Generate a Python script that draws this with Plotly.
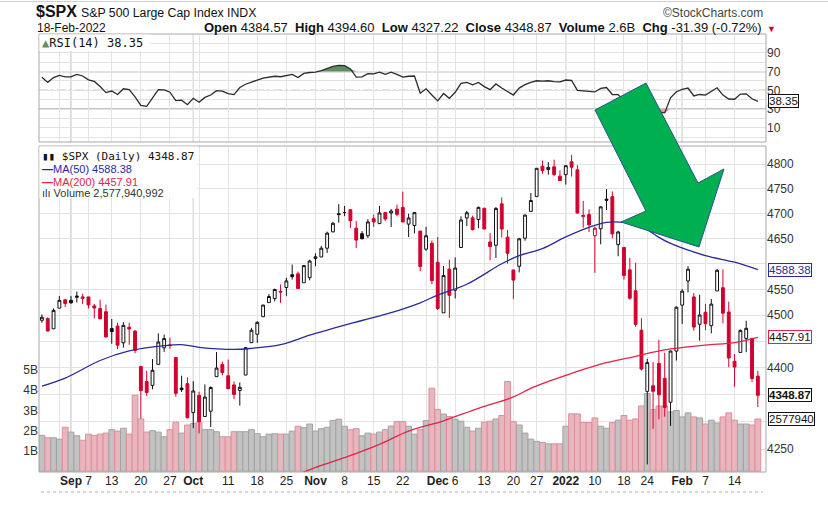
import numpy as np
import pandas as pd
import plotly.graph_objects as go

# ---------------- data ----------------
holidays = ["2021-09-06", "2021-11-25", "2021-12-24", "2022-01-17"]
dates = [d.strftime("%Y-%m-%d") for d in
         pd.bdate_range("2021-08-25", "2022-02-18", freq="C", holidays=holidays)]

prev_close_start = 4486.23

opens = [4490.45, 4493.75, 4474.10, 4513.76, 4529.75,
         4528.80, 4534.48, 4532.42, 4535.38, 4518.09, 4513.02, 4506.92, 4474.81, 4479.33, 4447.49, 4477.09, 4469.74, 4402.95, 4374.45, 4367.43, 4406.75, 4438.04, 4442.12, 4419.54, 4362.41, 4370.67,
         4317.16, 4348.84, 4309.87, 4319.57, 4383.73, 4406.51, 4385.44, 4368.31, 4358.01, 4386.75, 4447.69, 4463.72, 4497.34, 4524.42, 4532.24, 4546.12, 4553.69, 4578.69, 4580.22, 4562.84, 4572.87,
         4610.62, 4613.34, 4630.65, 4662.93, 4699.26, 4701.48, 4707.25, 4670.26, 4659.39, 4655.24, 4689.30, 4679.42, 4701.50, 4700.72, 4708.44, 4712.00, 4678.48, 4675.78, 4664.63, 4628.75, 4640.25,
         4602.82, 4504.73, 4589.49, 4548.37, 4631.97, 4690.86, 4691.00, 4687.64, 4710.30, 4642.99, 4636.46, 4719.13, 4652.50, 4587.90, 4594.96, 4650.36, 4703.96, 4733.99, 4795.49, 4788.64, 4794.23, 4775.21,
         4778.14, 4804.51, 4787.99, 4693.39, 4697.66, 4655.34, 4669.14, 4728.59, 4733.56, 4637.99, 4632.24, 4588.03, 4547.35, 4471.38, 4356.32, 4366.64, 4408.43, 4380.58, 4336.19, 4431.79,
         4519.57, 4566.39, 4535.41, 4482.79, 4505.75, 4480.02, 4547.00, 4553.24, 4506.27, 4412.61, 4429.28, 4455.75, 4456.06, 4384.57]
highs = [4501.71, 4495.90, 4513.33, 4537.36, 4531.39,
         4537.11, 4545.85, 4541.45, 4535.38, 4521.79, 4529.90, 4520.47, 4492.99, 4485.68, 4486.87, 4485.87, 4471.52, 4402.95, 4394.87, 4416.75, 4465.40, 4463.12, 4457.30, 4419.54, 4385.57, 4382.55,
         4375.19, 4355.51, 4369.23, 4365.57, 4429.97, 4412.02, 4415.88, 4374.89, 4372.87, 4439.73, 4475.82, 4488.75, 4520.40, 4540.87, 4551.44, 4559.67, 4572.62, 4598.53, 4584.57, 4597.55, 4608.08,
         4620.34, 4635.15, 4663.46, 4683.00, 4718.50, 4714.92, 4708.53, 4684.85, 4664.55, 4688.47, 4697.42, 4714.95, 4701.50, 4708.80, 4717.75, 4743.83, 4699.39, 4702.87, 4664.63, 4672.95, 4646.02,
         4652.94, 4595.46, 4608.03, 4612.60, 4694.04, 4705.06, 4695.26, 4713.57, 4710.30, 4660.47, 4712.60, 4731.99, 4666.70, 4587.90, 4651.14, 4697.67, 4740.74, 4791.49, 4807.02, 4804.06, 4808.93, 4786.83,
         4796.64, 4818.62, 4797.70, 4725.01, 4707.95, 4673.02, 4714.13, 4748.83, 4744.13, 4665.13, 4632.24, 4611.55, 4602.11, 4494.52, 4417.35, 4411.01, 4453.23, 4428.74, 4432.72, 4516.89,
         4550.49, 4595.31, 4542.88, 4539.66, 4521.86, 4531.32, 4590.03, 4588.92, 4526.33, 4426.22, 4472.77, 4489.55, 4456.06, 4394.60]
lows = [4485.66, 4468.99, 4474.10, 4513.76, 4515.80,
        4522.02, 4524.66, 4521.52, 4513.00, 4493.95, 4492.07, 4457.66, 4445.70, 4435.46, 4438.37, 4443.80, 4427.76, 4305.91, 4347.96, 4360.19, 4406.75, 4430.27, 4436.19, 4346.33, 4355.08, 4306.24,
        4288.52, 4278.94, 4309.87, 4290.49, 4383.73, 4386.22, 4360.59, 4342.09, 4329.92, 4386.75, 4447.69, 4447.47, 4496.41, 4524.40, 4526.89, 4524.00, 4537.36, 4569.17, 4551.66, 4562.84, 4567.59,
        4595.06, 4613.34, 4621.19, 4662.59, 4681.32, 4694.39, 4670.87, 4630.86, 4648.31, 4650.77, 4672.86, 4679.42, 4684.41, 4672.78, 4694.22, 4682.17, 4652.66, 4659.89, 4585.43, 4625.26, 4560.00,
        4510.27, 4504.73, 4495.12, 4532.46, 4631.97, 4674.52, 4665.98, 4670.24, 4667.60, 4606.52, 4611.22, 4651.89, 4600.22, 4531.10, 4583.16, 4645.53, 4703.96, 4733.99, 4780.04, 4778.08, 4775.33, 4765.75,
        4758.17, 4774.27, 4699.44, 4671.26, 4662.74, 4582.24, 4638.27, 4706.71, 4650.29, 4614.75, 4568.70, 4530.20, 4477.95, 4395.34, 4222.62, 4287.11, 4304.80, 4309.50, 4292.46, 4414.02,
        4483.53, 4544.32, 4470.39, 4451.50, 4471.47, 4465.40, 4547.00, 4484.31, 4401.41, 4364.84, 4429.28, 4429.68, 4373.81, 4327.22]
closes = [4496.19, 4470.00, 4509.37, 4528.79, 4522.68,
          4524.09, 4536.95, 4535.43, 4520.03, 4514.07, 4493.28, 4458.58, 4468.73, 4443.05, 4480.70, 4473.75, 4432.99, 4357.73, 4354.19, 4395.64, 4448.98, 4455.48, 4443.11, 4352.63, 4359.46, 4307.54,
          4357.04, 4300.46, 4345.72, 4363.55, 4399.76, 4391.34, 4361.19, 4350.65, 4363.80, 4438.26, 4471.37, 4486.46, 4519.63, 4536.19, 4549.78, 4544.90, 4566.48, 4574.79, 4551.68, 4596.42, 4605.38,
          4613.67, 4630.65, 4660.57, 4680.06, 4697.53, 4701.70, 4685.25, 4646.71, 4649.27, 4682.85, 4682.80, 4700.90, 4688.67, 4704.54, 4697.96, 4682.94, 4690.70, 4701.46, 4594.62, 4655.27, 4567.00,
          4513.04, 4577.10, 4538.43, 4591.67, 4686.75, 4701.21, 4667.45, 4712.02, 4668.97, 4634.09, 4709.85, 4668.67, 4620.64, 4568.02, 4649.23, 4696.56, 4725.79, 4791.19, 4786.35, 4793.06, 4778.73, 4766.18,
          4796.56, 4793.54, 4700.58, 4696.05, 4677.03, 4670.29, 4713.07, 4726.35, 4659.03, 4662.85, 4577.11, 4532.76, 4482.73, 4397.94, 4410.13, 4356.45, 4349.93, 4326.51, 4431.85, 4515.55,
          4546.54, 4589.38, 4477.44, 4500.53, 4483.87, 4521.54, 4587.18, 4504.08, 4418.64, 4401.67, 4471.07, 4475.01, 4380.26, 4348.87]

volume_billions = [1.77, 1.65, 1.65, 1.58, 2.17,
                   1.93, 1.75, 1.53, 1.83, 1.77, 1.83, 1.88, 2.05, 1.98, 2.12, 1.83, 3.75, 2.58, 1.93, 2.00, 1.93, 1.70, 2.05, 2.42, 1.88, 2.28,
                   2.35, 2.42, 2.05, 2.05, 1.95, 1.70, 1.70, 1.95, 1.95, 1.95, 2.05, 1.85, 1.70, 1.83, 1.85, 1.83, 1.83, 1.98, 2.22, 2.15, 2.33,
                   1.98, 2.10, 2.17, 2.50, 2.57, 2.22, 2.05, 2.10, 1.75, 1.88, 1.83, 1.93, 2.05, 2.23, 2.45, 2.45, 2.22, 1.83, 2.05, 2.50, 4.10,
                   3.05, 2.82, 2.70, 2.57, 2.47, 2.17, 1.98, 2.12, 2.42, 2.47, 2.58, 2.75, 4.43, 2.45, 2.28, 1.88, 1.58, 1.47, 1.42, 1.35, 1.35, 1.35,
                   2.22, 2.83, 2.83, 2.40, 2.40, 2.63, 2.22, 2.12, 2.40, 2.52, 2.75, 2.52, 2.58, 3.22, 3.83, 3.05, 3.22, 3.22, 2.93, 3.00,
                   2.68, 2.88, 2.68, 2.63, 2.33, 2.52, 2.38, 2.68, 2.88, 2.52, 2.33, 2.33, 2.28, 2.57794]

rsi14 = [64, 58.5, 63.6, 66, 64.3,
         64.3, 67, 65.3, 61.2, 59.5, 54, 47.6, 49.3, 45.6, 51.7, 50.7, 43, 34, 33, 42, 50.7, 50.5, 48, 39, 39.5, 34.7,
         41.5, 37.4, 42.5, 45, 49.7, 49.2, 46.5, 45.5, 53, 56.5, 59, 61, 63, 64, 65, 64.5, 66, 67, 63.6, 68, 69,
         69.5, 71, 73.5, 75.5, 76.5, 76.3, 72.8, 64, 64.3, 67.7, 67.5, 69.4, 67, 69.4, 67, 64, 65, 65.3, 47, 51.7, 45,
         38.8, 46.6, 41.5, 48, 57.5, 58.5, 55.8, 58.5, 54, 50.7, 56.8, 52.5, 49, 45, 52.4, 56, 58.5, 60.2, 59.8, 60.2, 59.2, 59,
         61, 60.5, 50, 49.5, 48.8, 48.3, 52, 53, 45.6, 45.5, 39, 36, 33, 27, 29, 27.5, 27, 26, 42, 48.5,
         51, 52.5, 44, 45.6, 45, 49, 52.7, 45, 40.8, 40.5, 46, 46.3, 41, 38.35]

ma50_dates = ["2021-08-25", "2021-08-31", "2021-09-09", "2021-09-16", "2021-09-24", "2021-09-29",
              "2021-10-04", "2021-10-12", "2021-10-15", "2021-10-22", "2021-10-29", "2021-11-04",
              "2021-11-11", "2021-11-18", "2021-11-26", "2021-12-01", "2021-12-08", "2021-12-16",
              "2021-12-21", "2021-12-28", "2022-01-03", "2022-01-07", "2022-01-12", "2022-01-18",
              "2022-01-21", "2022-01-26", "2022-01-28", "2022-02-07", "2022-02-14", "2022-02-18"]
ma50_vals = [4366, 4381, 4414, 4432, 4442, 4444, 4439, 4435, 4437, 4444, 4462, 4475,
             4490, 4505, 4524, 4539, 4560, 4600, 4616, 4630, 4653, 4672, 4682, 4682,
             4674, 4652, 4640, 4616, 4603, 4588.38]

ma200_dates = ["2021-10-27", "2021-11-02", "2021-11-08", "2021-11-16", "2021-11-23", "2021-12-02",
               "2021-12-10", "2021-12-20", "2021-12-23", "2022-01-03", "2022-01-11", "2022-01-20",
               "2022-01-27", "2022-02-07", "2022-02-14", "2022-02-18"]
ma200_vals = [4205, 4221, 4235, 4259, 4283, 4302, 4325, 4346, 4362, 4386, 4407, 4422,
              4434, 4443, 4448, 4457.91]

tick_dates = ["2021-08-30", "2021-09-01", "2021-09-07", "2021-09-13", "2021-09-20", "2021-09-27",
              "2021-10-01", "2021-10-04", "2021-10-11", "2021-10-18", "2021-10-25", "2021-11-01",
              "2021-11-08", "2021-11-15", "2021-11-22", "2021-11-29", "2021-12-01", "2021-12-06",
              "2021-12-13", "2021-12-20", "2021-12-27", "2022-01-03", "2022-01-10", "2022-01-18",
              "2022-01-24", "2022-01-31", "2022-02-01", "2022-02-07", "2022-02-14"]
tick_labels = ["", "<b>Sep</b>", "7", "13", "20", "27", "<b>Oct</b>", "", "11", "18", "25", "<b>Nov</b>",
               "8", "15", "22", "", "<b>Dec</b>", "6", "13", "20", "27", "<b>2022</b>", "10", "18",
               "24", "", "<b>Feb</b>", "7", "14"]
month_dates = ["2021-09-01", "2021-10-01", "2021-11-01", "2021-12-01", "2022-01-03", "2022-02-01"]

price_ticks = [4250, 4300, 4350, 4400, 4450, 4500, 4550, 4600, 4650, 4700, 4750, 4800]
price_tick_labels = ["4250", "", "", "4400", "", "4500", "4550", "", "4650", "4700", "4750", "4800"]

n = len(dates)
assert all(len(a) == n for a in [opens, highs, lows, closes, volume_billions, rsi14])

# ---------------- styling ----------------
RED = "#d2002e"
BLACK = "#111111"
MA50_C = "#2a2a9a"
MA200_C = "#e0244a"
GRID = "#e3e3e3"
FONT = "Liberation Sans, Arial, sans-serif"
MONO = "DejaVu Sans Mono, monospace"

FIG_W, FIG_H = 828, 509
# plot area in pixels
L, R, T, B = 39, 766, 34, 472
W_PX, H_PX = R - L, B - T


def pxx(x):
    return (x - L) / W_PX


def pxy(y):
    return (B - y) / H_PX


main_top = pxy(146)
rsi_bot = pxy(142)

prev = [prev_close_start] + closes[:-1]
is_up = [c >= p for c, p in zip(closes, prev)]
is_hollow = [c > o for c, o in zip(closes, opens)]

fig = go.Figure()

# volume (base axis y2, drawn beneath price)
vol_fill = ["#c2c2c2" if u else "#eab6be" for u in is_up]
vol_line = ["#a2a2a2" if u else "#dc8e9b" for u in is_up]
fig.add_trace(go.Bar(x=dates, y=[v * 1e9 for v in volume_billions], xaxis="x", yaxis="y2",
                     marker=dict(color=vol_fill, line=dict(color=vol_line, width=1)),
                     hoverinfo="skip", showlegend=False))

# candles in four styles
for up in (True, False):
    for hollow in (True, False):
        idx = [i for i in range(n) if is_up[i] == up and is_hollow[i] == hollow]
        if not idx:
            continue
        col = BLACK if up else RED
        fill = "#ffffff" if hollow else col
        style = dict(line=dict(color=col, width=1), fillcolor=fill)
        fig.add_trace(go.Candlestick(
            x=[dates[i] for i in idx], open=[opens[i] for i in idx], high=[highs[i] for i in idx],
            low=[lows[i] for i in idx], close=[closes[i] for i in idx],
            increasing=style, decreasing=style, whiskerwidth=0,
            xaxis="x", yaxis="y3", hoverinfo="skip", showlegend=False))

fig.add_trace(go.Scatter(x=ma50_dates, y=ma50_vals, mode="lines", line=dict(color=MA50_C, width=1.3, shape="spline"),
                         xaxis="x", yaxis="y3", hoverinfo="skip", showlegend=False))
fig.add_trace(go.Scatter(x=ma200_dates, y=ma200_vals, mode="lines", line=dict(color=MA200_C, width=1.3, shape="spline"),
                         xaxis="x", yaxis="y3", hoverinfo="skip", showlegend=False))

# RSI with fills
rsi_arr = np.array(rsi14, dtype=float)
fig.add_trace(go.Scatter(x=dates, y=[70] * n, mode="lines", line=dict(width=0), xaxis="x", yaxis="y",
                         hoverinfo="skip", showlegend=False))
fig.add_trace(go.Scatter(x=dates, y=np.maximum(rsi_arr, 70), mode="lines", line=dict(width=0),
                         fill="tonexty", fillcolor="#5f8f5f", xaxis="x", yaxis="y", hoverinfo="skip", showlegend=False))
fig.add_trace(go.Scatter(x=dates, y=[30] * n, mode="lines", line=dict(width=0), xaxis="x", yaxis="y",
                         hoverinfo="skip", showlegend=False))
fig.add_trace(go.Scatter(x=dates, y=np.minimum(rsi_arr, 30), mode="lines", line=dict(width=0),
                         fill="tonexty", fillcolor="#e79aa6", xaxis="x", yaxis="y", hoverinfo="skip", showlegend=False))
fig.add_trace(go.Scatter(x=dates, y=rsi14, mode="lines", line=dict(color="#2b2b2b", width=1.3),
                         xaxis="x", yaxis="y", hoverinfo="skip", showlegend=False))

shapes = []
# month separator lines
for d in month_dates:
    for yr in ("y domain", "y2 domain"):
        shapes.append(dict(type="line", xref="x", x0=d, x1=d, yref=yr, y0=0, y1=1,
                           line=dict(color="#b5b5b5", width=1), layer="below"))
# RSI reference lines
for lvl, dash in ((70, "solid"), (30, "solid"), (50, "dashdot")):
    shapes.append(dict(type="line", xref="x domain", x0=0, x1=1, yref="y", y0=lvl, y1=lvl,
                       line=dict(color="#8a8a8a", width=1.3, dash=dash), layer="below"))
# panel borders
for yr in ("y domain", "y2 domain"):
    shapes.append(dict(type="rect", xref="paper", x0=0, x1=1, yref=yr, y0=0, y1=1,
                       line=dict(color="#a8a8a8", width=1), fillcolor="rgba(0,0,0,0)", layer="above"))
# top rule and dotted bottom rule
shapes.append(dict(type="line", xref="paper", x0=pxx(0), x1=pxx(828), yref="paper", y0=pxy(1.5), y1=pxy(1.5),
                   line=dict(color="#d0d0d0", width=1)))
shapes.append(dict(type="line", xref="paper", x0=pxx(41), x1=pxx(763), yref="paper", y0=pxy(492), y1=pxy(492),
                   line=dict(color="#b0b0b0", width=1, dash="dot")))
# legend backgrounds
shapes.append(dict(type="rect", xref="paper", x0=pxx(39.5), x1=pxx(197), yref="paper", y0=pxy(198), y1=pxy(146.5),
                   line=dict(width=0), fillcolor="white", layer="above"))
shapes.append(dict(type="rect", xref="paper", x0=pxx(39.5), x1=pxx(150), yref="paper", y0=pxy(51), y1=pxy(34.5),
                   line=dict(width=0), fillcolor="white", layer="above"))
# green arrow drawing
arrow_px = [(595, 110), (646, 83), (698, 183), (724, 169), (699, 247), (621, 222), (646, 211)]
path = "M " + " L ".join(f"{pxx(x):.4f},{pxy(y):.4f}" for x, y in arrow_px) + " Z"
shapes.append(dict(type="path", xref="paper", yref="paper", path=path, fillcolor="#00b050",
                   line=dict(color="#2f4f8f", width=1), layer="above"))

ann = []


def text(x, y, s, size=12, color="#111", family=FONT, xanchor="left", **kw):
    ann.append(dict(xref="paper", yref="paper", x=pxx(x), y=pxy(y), text=s, showarrow=False,
                    xanchor=xanchor, yanchor="middle", borderpad=0,
                    font=dict(size=size, color=color, family=family), **kw))


# header
text(35, 12, "<b>$SPX</b>", size=16)
text(80, 13, "S&P 500 Large Cap Index INDX", size=12.3)
text(764, 13, "©StockCharts.com", size=12, color="#444", xanchor="right")
text(36, 28, "18-Feb-2022", size=12)
text(763, 28,
     "<b>Open</b> 4384.57  <b>High</b> 4394.60  <b>Low</b> 4327.22  <b>Close</b> 4348.87  "
     "<b>Volume</b> 2.6B  <b>Chg</b> -31.39 (-0.72%)",
     size=13, xanchor="right")
text(766, 29, "▼", size=9, color=RED)

# panel legends
text(41, 43, "<span style='color:#5f8f5f'>▲</span>RSI(14) 38.35", size=12, family=MONO)
text(41, 156, "▮▮ $SPX (Daily) 4348.87", size=11, family=MONO)
text(41, 169, "<b>—</b>MA(50) 4588.38", size=11, color=MA50_C)
text(41, 181.5, "<b>—</b>MA(200) 4457.91", size=11, color=MA200_C)
text(41, 193, "ılı Volume 2,577,940,992", size=11, color="#333")


# right-hand value tags
def tag(yref, yval, s, color, bold=False, txt="#111"):
    ann.append(dict(xref="paper", x=1.0, xanchor="left", xshift=2, yref=yref, y=yval, yanchor="middle",
                    text=f"<b>{s}</b>" if bold else s, showarrow=False, bgcolor="white",
                    bordercolor=color, borderwidth=1, borderpad=0,
                    font=dict(size=11.5, color=txt, family=FONT)))


tag("y3", np.log10(4588.38), "4588.38", MA50_C, txt=MA50_C)
tag("y3", np.log10(4457.91), "4457.91", MA200_C)
tag("y3", np.log10(4348.87), "4348.87", "#111", bold=True)
tag("y2", 2.57794e9, "2577940", "#111")
tag("y", 38.35, "38.35", "#111")

fig.update_layout(
    width=FIG_W, height=FIG_H, autosize=False,
    margin=dict(l=L, r=FIG_W - R, t=T, b=FIG_H - B, autoexpand=False),
    paper_bgcolor="white", plot_bgcolor="white",
    bargap=0.0, showlegend=False, hovermode=False,
    font=dict(family=FONT, size=12, color="#222"),
    xaxis=dict(type="category", categoryorder="array", categoryarray=dates,
               range=[-0.5, 124.4], tickvals=tick_dates, ticktext=tick_labels,
               tickangle=0, showgrid=True, gridcolor=GRID, gridwidth=1, zeroline=False,
               showline=False, ticks="", anchor="y2", rangeslider=dict(visible=False),
               automargin=False, tickfont=dict(size=12, color="#222", family=FONT)),
    yaxis=dict(domain=[rsi_bot, 1.0], range=[-5, 110], side="right", anchor="x",
               tickvals=[0, 10, 20, 30, 40, 50, 60, 70, 80, 90, 100],
               ticktext=["", "10", "", "30", "", "50", "", "70", "", "90", ""],
               showgrid=True, gridcolor=GRID, zeroline=False, ticks="", automargin=False,
               tickfont=dict(size=12, color="#333")),
    yaxis2=dict(domain=[0, main_top], range=[-0.04e9, 16.06e9], side="left", anchor="x",
                tickvals=[1e9, 2e9, 3e9, 4e9, 5e9], ticktext=["1B", "2B", "3B", "4B", "5B"],
                showgrid=False, zeroline=False, ticks="", automargin=False,
                tickfont=dict(size=12, color="#333")),
    yaxis3=dict(overlaying="y2", side="right", anchor="x", type="log",
                range=[np.log10(4209), np.log10(4837)],
                tickvals=price_ticks, ticktext=price_tick_labels,
                showgrid=True, gridcolor=GRID, zeroline=False, ticks="", automargin=False,
                tickfont=dict(size=12, color="#333")),
    shapes=shapes, annotations=ann,
)

# remove the browser's default page margin so the figure sits at the page origin
fig.write_html("out.html", config={"displayModeBar": False, "staticPlot": True},
               post_script="document.body.style.margin='0px';document.body.style.overflow='hidden';")
